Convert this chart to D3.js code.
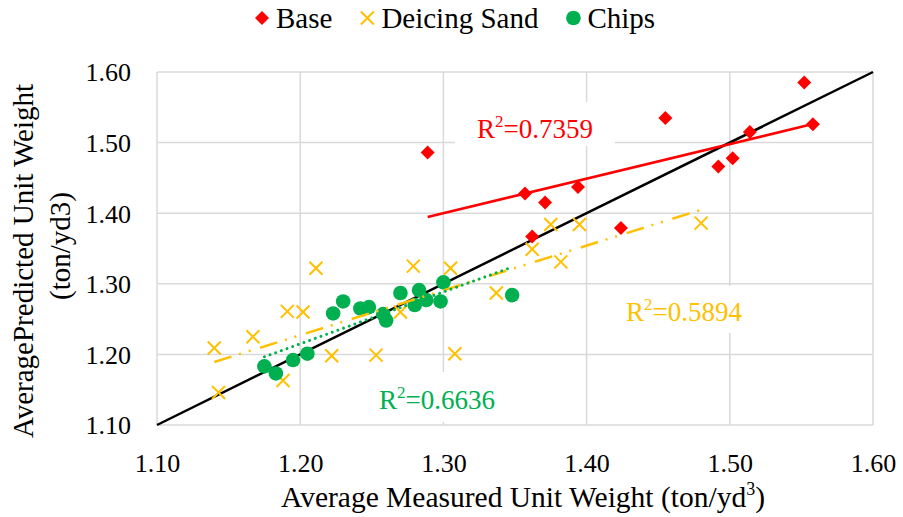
<!DOCTYPE html>
<html>
<head>
<meta charset="utf-8">
<script src="https://cdn.jsdelivr.net/npm/d3@7"></script>
<style>
  body { margin: 0; background: #fff; }
  svg { display: block; }
</style>
</head>
<body>
<svg id="chart" width="903" height="517"></svg>
<script>
// Axis ticks (both axes share the same range)
const tickValues = [1.10, 1.20, 1.30, 1.40, 1.50, 1.60];
const tickLabels = ["1.10", "1.20", "1.30", "1.40", "1.50", "1.60"];

// Series
const seriesNames = ["Base", "Deicing Sand", "Chips"];
const seriesColors = ["#FF0000", "#FFC000", "#00B050"];

const baseMeasured  = [1.289, 1.357, 1.362, 1.371, 1.394, 1.424, 1.455, 1.492, 1.502, 1.514, 1.552, 1.558];
const basePredicted = [1.486, 1.428, 1.367, 1.415, 1.437, 1.379, 1.535, 1.466, 1.478, 1.515, 1.585, 1.526];

const sandMeasured  = [1.140, 1.143, 1.167, 1.188, 1.191, 1.202, 1.211, 1.222, 1.253, 1.270,
                       1.279, 1.305, 1.308, 1.337, 1.362, 1.375, 1.382, 1.395, 1.480];
const sandPredicted = [1.209, 1.146, 1.225, 1.163, 1.261, 1.260, 1.322, 1.198, 1.199, 1.260,
                       1.325, 1.322, 1.201, 1.287, 1.349, 1.384, 1.331, 1.384, 1.386];

const chipsMeasured  = [1.175, 1.183, 1.195, 1.205, 1.223, 1.230, 1.242, 1.248, 1.258,
                        1.260, 1.270, 1.280, 1.283, 1.288, 1.298, 1.300, 1.348];
const chipsPredicted = [1.183, 1.173, 1.192, 1.201, 1.258, 1.275, 1.265, 1.267, 1.257,
                        1.248, 1.287, 1.270, 1.291, 1.277, 1.275, 1.302, 1.284];

// Goodness-of-fit values printed beside each trend line
const r2Values = ["0.7359", "0.5894", "0.6636"];

// Line of equality
const equalityLine = [1.10, 1.60];

const xTitle = "Average Measured Unit Weight (ton/yd";
const yTitleLines = ["AveragePredicted Unit Weight", "(ton/yd3)"];

// ---------------------------------------------------------------------------
const FONT = "'Liberation Serif', 'Times New Roman', Times, serif";
const svg = d3.select("#chart").style("font-family", FONT);
const plot = { left: 157, right: 873, top: 72, bottom: 425 };

const x = d3.scaleLinear().domain([1.10, 1.60]).range([plot.left, plot.right]);
const y = d3.scaleLinear().domain([1.10, 1.60]).range([plot.bottom, plot.top]);

const gridColor = "#d9d9d9";

// Gridlines (outer ones frame the plot area)
const grid = svg.append("g");
grid.selectAll(".gx").data(tickValues).join("line")
  .attr("x1", d => x(d)).attr("x2", d => x(d))
  .attr("y1", plot.top).attr("y2", plot.bottom)
  .attr("stroke", gridColor).attr("stroke-width", 1.5);
grid.selectAll(".gy").data(tickValues).join("line")
  .attr("y1", d => y(d)).attr("y2", d => y(d))
  .attr("x1", plot.left).attr("x2", plot.right)
  .attr("stroke", gridColor).attr("stroke-width", 1.5);

// Tick labels through d3 axes
const xAxis = d3.axisBottom(x).tickValues(tickValues)
  .tickFormat((d, i) => tickLabels[i]).tickSize(0).tickPadding(0);
const yAxis = d3.axisLeft(y).tickValues(tickValues)
  .tickFormat((d, i) => tickLabels[i]).tickSize(0).tickPadding(0);

const gx = svg.append("g").attr("transform", `translate(0,${plot.bottom + 47})`).call(xAxis);
gx.attr("font-family", null).style("font-family", FONT);
gx.select(".domain").remove();
gx.selectAll("text").attr("fill", "#000").attr("dy", 0)
  .style("font-family", FONT).style("font-size", "26px");

const gy = svg.append("g").attr("transform", `translate(${plot.left - 26},0)`).call(yAxis);
gy.attr("font-family", null).style("font-family", FONT);
gy.select(".domain").remove();
gy.selectAll("text").attr("fill", "#000").attr("dy", "0.34em")
  .style("font-family", FONT).style("font-size", "26px");

// Axis titles
const xt = svg.append("text")
  .attr("x", (plot.left + plot.right) / 2 + 8).attr("y", 507)
  .attr("text-anchor", "middle").attr("fill", "#000")
  .style("font-family", FONT).style("font-size", "29.5px");
xt.append("tspan").text(xTitle);
xt.append("tspan").style("font-size", "18px").attr("dy", -12).text("3");
xt.append("tspan").attr("dy", 12).text(")");

const yTitleCenters = [261, 246];
const yTitleBaselines = [33, 70];
yTitleLines.forEach((ln, i) => {
  svg.append("text")
    .attr("transform", `translate(${yTitleBaselines[i]},${yTitleCenters[i]}) rotate(-90)`)
    .attr("text-anchor", "middle").attr("fill", "#000")
    .style("font-family", FONT).style("font-size", "29px")
    .text(ln);
});

// R² label boxes (white fill masks the grid behind them)
const labelBoxes = [
  { cx: 535, top: 102, w: 160, h: 44, base: 138 },
  { cx: 684, top: 286, w: 152, h: 47, base: 321 },
  { cx: 437, top: 372, w: 128, h: 50, base: 409 }
];
labelBoxes.forEach(b => {
  svg.append("rect")
    .attr("x", b.cx - b.w / 2).attr("y", b.top)
    .attr("width", b.w).attr("height", b.h).attr("fill", "#fff");
});

// Line of equality
svg.append("line")
  .attr("x1", x(equalityLine[0])).attr("y1", y(equalityLine[0]))
  .attr("x2", x(equalityLine[1])).attr("y2", y(equalityLine[1]))
  .attr("stroke", "#000").attr("stroke-width", 2.5);

// Markers
const zip = (xs, ys) => xs.map((v, i) => [v, ys[i]]);
const baseData = zip(baseMeasured, basePredicted);
const sandData = zip(sandMeasured, sandPredicted);
const chipsData = zip(chipsMeasured, chipsPredicted);

const diamond = d3.symbol().type(d3.symbolSquare).size(98)();
const markers = svg.append("g");

function drawDiamond(g, cx, cy) {
  g.append("path").attr("d", diamond)
    .attr("transform", `translate(${cx},${cy}) rotate(45)`)
    .attr("fill", seriesColors[0]);
}
function drawCross(g, cx, cy) {
  const h = 6.5;
  g.append("path")
    .attr("d", `M${cx - h},${cy - h}L${cx + h},${cy + h}M${cx - h},${cy + h}L${cx + h},${cy - h}`)
    .attr("stroke", seriesColors[1]).attr("stroke-width", 2).attr("fill", "none");
}
function drawDot(g, cx, cy) {
  g.append("circle").attr("cx", cx).attr("cy", cy).attr("r", 7.3)
    .attr("fill", seriesColors[2]);
}

baseData.forEach(d => drawDiamond(markers, x(d[0]), y(d[1])));
sandData.forEach(d => drawCross(markers, x(d[0]), y(d[1])));
chipsData.forEach(d => drawDot(markers, x(d[0]), y(d[1])));

// Least-squares trend lines spanning each series' measured range
function fit(data) {
  const mx = d3.mean(data, d => d[0]);
  const my = d3.mean(data, d => d[1]);
  const sxy = d3.sum(data, d => (d[0] - mx) * (d[1] - my));
  const sxx = d3.sum(data, d => (d[0] - mx) ** 2);
  const slope = sxy / sxx;
  const icpt = my - slope * mx;
  const [x0, x1] = d3.extent(data, d => d[0]);
  return [[x0, icpt + slope * x0], [x1, icpt + slope * x1]];
}
const line = d3.line().x(d => x(d[0])).y(d => y(d[1]));

svg.append("path").attr("d", line(fit(baseData)))
  .attr("stroke", seriesColors[0]).attr("stroke-width", 2.5).attr("fill", "none");
svg.append("path").attr("d", line(fit(sandData)))
  .attr("stroke", seriesColors[1]).attr("stroke-width", 2.5).attr("fill", "none")
  .attr("stroke-dasharray", "18,8,2,8,2,10");
svg.append("path").attr("d", line(fit(chipsData)))
  .attr("stroke", seriesColors[2]).attr("stroke-width", 3).attr("fill", "none")
  .attr("stroke-dasharray", "0.01,6").attr("stroke-linecap", "round");

// R² labels
labelBoxes.forEach((b, i) => {
  const t = svg.append("text")
    .attr("x", b.cx).attr("y", b.base)
    .attr("text-anchor", "middle").attr("fill", seriesColors[i])
    .style("font-family", FONT).style("font-size", "27px");
  t.append("tspan").text("R");
  t.append("tspan").style("font-size", "17px").attr("dy", -11).text("2");
  t.append("tspan").attr("dy", 11).text("=" + r2Values[i]);
});

// Legend
const legend = svg.append("g");
let lx = 255;
const ly = 18;
seriesNames.forEach((name, i) => {
  const mx = lx + 7;
  if (i === 0) drawDiamond(legend, mx, ly);
  else if (i === 1) drawCross(legend, mx, ly);
  else drawDot(legend, mx, ly);
  const t = legend.append("text")
    .attr("x", lx + 21).attr("y", ly + 9.5).attr("fill", "#000")
    .style("font-family", FONT).style("font-size", "29px").text(name);
  lx += 21 + t.node().getComputedTextLength() + 28;
});
</script>
</body>
</html>
